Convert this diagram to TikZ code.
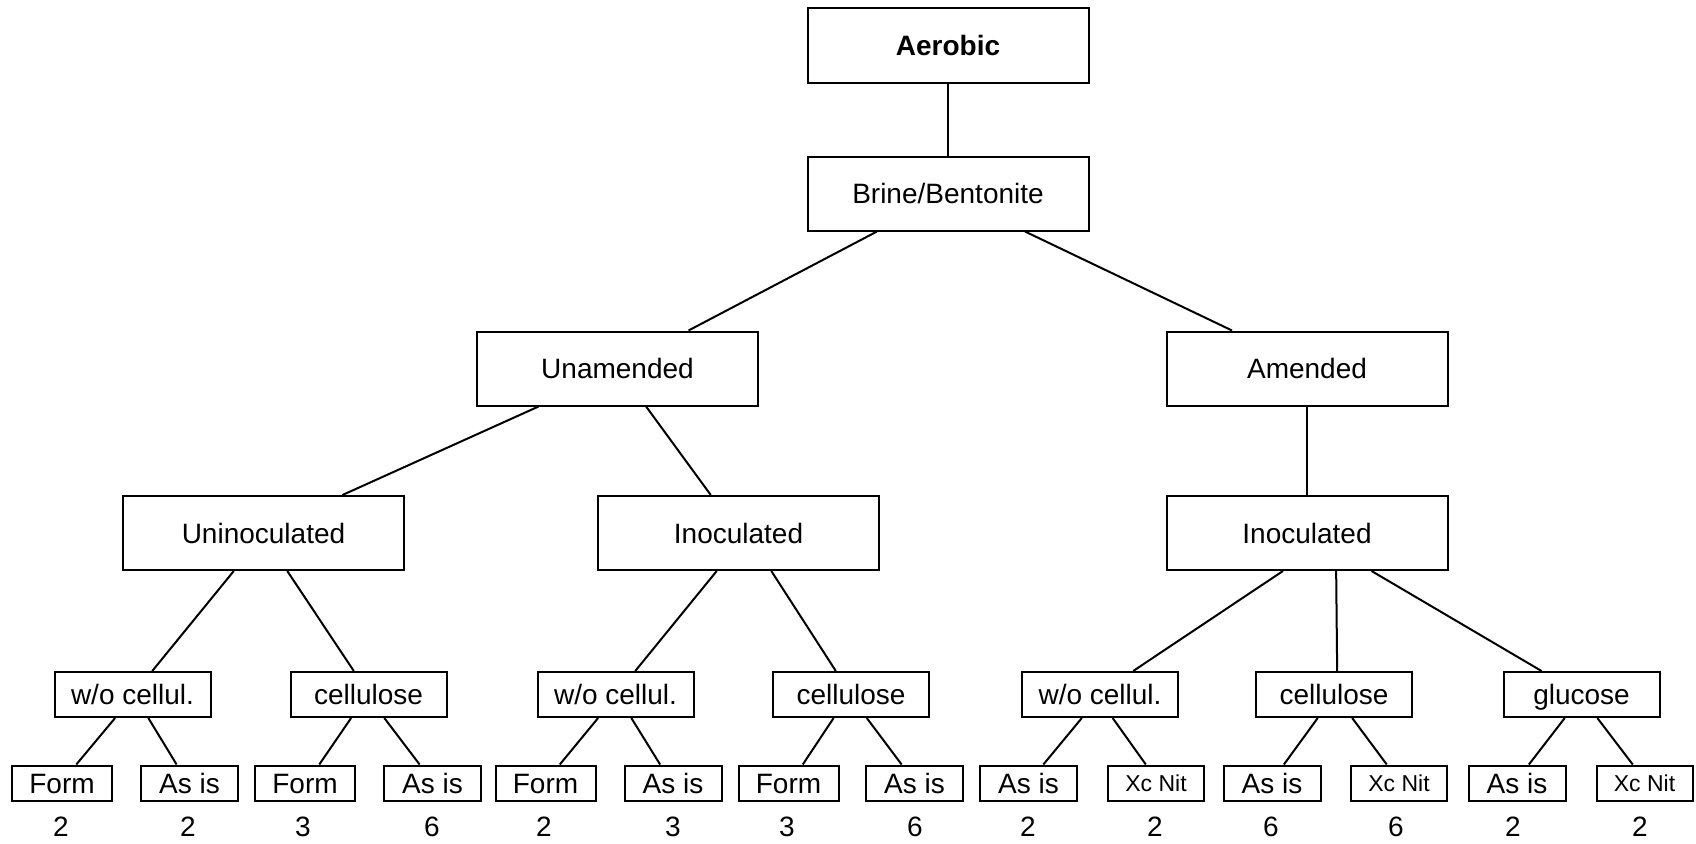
\documentclass[tikz,border=0pt]{standalone}
\usepackage{fontspec}
\setmainfont{Liberation Sans}
\usetikzlibrary{calc}
\newcommand\linkbox[4]{\draw[link] ($(#1.south west)!#2!(#1.south east)$) -- ($(#3.north west)!#4!(#3.north east)$);}
\begin{document}
\begin{tikzpicture}[x=1pt,y=-1pt,
  box/.style={draw, line width=2pt, inner sep=0pt, text height=20pt, text depth=0pt, font=\fontsize{28}{30}\selectfont},
  big/.style={box, minimum width=281pt, minimum height=74pt},
  mid/.style={box, minimum width=156pt, minimum height=45pt},
  leafF/.style={box, minimum width=100pt, minimum height=35pt},
  leafA/.style={box, minimum width=97pt, minimum height=35pt},
  leafX/.style={box, minimum width=96pt, minimum height=35pt, text height=16.5pt, font=\fontsize{23}{25}\selectfont},
  num/.style={inner sep=0pt, text height=20pt, text depth=0pt, font=\fontsize{28}{30}\selectfont},
  link/.style={line width=2pt}
]
\fill[white] (0,0) rectangle (1696,843);
\useasboundingbox (0,0) rectangle (1696,843);

% level 0-3
\node[big, font=\fontsize{28}{30}\selectfont\bfseries] (aer) at (948,45.5) {Aerobic};
\node[big] (brine) at (948,193.5) {Brine/Bentonite};
\node[big] (unam) at (617.5,368.5) {Unamended};
\node[big] (amen) at (1307,368.5) {Amended};
\node[big] (uninoc) at (263.5,533) {Uninoculated};
\node[big] (inocL) at (738.5,533) {Inoculated};
\node[big] (inocR) at (1307,533) {Inoculated};

% level 4
\node[mid] (wo1) at (132.5,694.5) {w/o cellul.};
\node[mid] (cel1) at (368.5,694.5) {cellulose};
\node[mid] (wo2) at (615.5,694.5) {w/o cellul.};
\node[mid] (cel2) at (851,694.5) {cellulose};
\node[mid] (wo3) at (1100,694.5) {w/o cellul.};
\node[mid] (cel3) at (1334,694.5) {cellulose};
\node[mid] (glu) at (1581.5,694.5) {glucose};

% level 5
\node[leafF] (f1) at (62,783) {Form};
\node[leafA] (a1) at (189.5,783) {As is};
\node[leafF] (f2) at (305,783) {Form};
\node[leafA] (a2) at (432.5,783) {As is};
\node[leafF] (f3) at (545.5,783) {Form};
\node[leafA] (a3) at (673,783) {As is};
\node[leafF] (f4) at (788.5,783) {Form};
\node[leafA] (a4) at (914.5,783) {As is};
\node[leafA] (a5) at (1028.5,783) {As is};
\node[leafX] (x5) at (1156,783) {Xc Nit};
\node[leafA] (a6) at (1272,783) {As is};
\node[leafX] (x6) at (1399,783) {Xc Nit};
\node[leafA] (a7) at (1517,783) {As is};
\node[leafX] (x7) at (1644.5,783) {Xc Nit};

% counts
\node[num] (n1) at (61,826) {2};
\node[num] (n2) at (188,826) {2};
\node[num] (n3) at (303,826) {3};
\node[num] (n4) at (432,826) {6};
\node[num] (n5) at (544,826) {2};
\node[num] (n6) at (673,826) {3};
\node[num] (n7) at (787,826) {3};
\node[num] (n8) at (915,826) {6};
\node[num] (n9) at (1028,826) {2};
\node[num] (n10) at (1155,826) {2};
\node[num] (n11) at (1271,826) {6};
\node[num] (n12) at (1396,826) {6};
\node[num] (n13) at (1513,826) {2};
\node[num] (n14) at (1640,826) {2};

% connectors
\draw[link] (aer.south) -- (brine.north);
\linkbox{brine}{0.249}{unam}{0.751}
\linkbox{brine}{0.772}{amen}{0.235}
\draw[link] (amen.south) -- (inocR.north);
\linkbox{unam}{0.221}{uninoc}{0.779}
\linkbox{unam}{0.601}{inocL}{0.402}

\linkbox{uninoc}{0.395}{wo1}{0.625}
\linkbox{uninoc}{0.584}{cel1}{0.407}
\linkbox{inocL}{0.423}{wo2}{0.625}
\linkbox{inocL}{0.616}{cel2}{0.404}
\linkbox{inocR}{0.415}{wo3}{0.71}
\linkbox{inocR}{0.603}{cel3}{0.52}
\linkbox{inocR}{0.728}{glu}{0.247}

\linkbox{wo1}{0.39}{f1}{0.64}
\linkbox{wo1}{0.6}{a1}{0.37}
\linkbox{cel1}{0.39}{f2}{0.64}
\linkbox{cel1}{0.6}{a2}{0.37}
\linkbox{wo2}{0.39}{f3}{0.64}
\linkbox{wo2}{0.6}{a3}{0.37}
\linkbox{cel2}{0.39}{f4}{0.64}
\linkbox{cel2}{0.6}{a4}{0.37}
\linkbox{wo3}{0.385}{a5}{0.65}
\linkbox{wo3}{0.58}{x5}{0.396}
\linkbox{cel3}{0.397}{a6}{0.62}
\linkbox{cel3}{0.615}{x6}{0.375}
\linkbox{glu}{0.394}{a7}{0.62}
\linkbox{glu}{0.6}{x7}{0.38}
\end{tikzpicture}
\end{document}
